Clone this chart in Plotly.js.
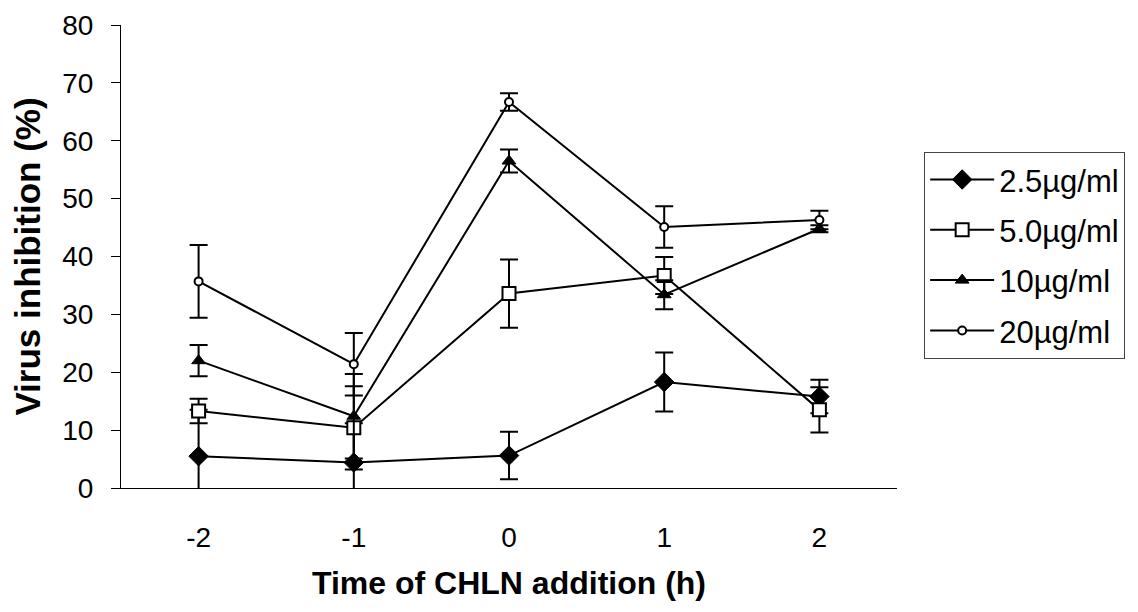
<!DOCTYPE html>
<html>
<head>
<meta charset="utf-8">
<script src="https://cdn.plot.ly/plotly-3.0.1.min.js"></script>
<style>html,body{margin:0;padding:0;background:#fff;}#chart{width:1138px;height:612px;}</style>
</head>
<body>
<div id="chart"></div>
<script>
const times = [-2, -1, 0, 1, 2];
const seriesNames = ["2.5µg/ml", "5.0µg/ml", "10µg/ml", "20µg/ml"];
const inhib25 = [5.5, 4.4, 5.6, 18.3, 15.8];
const err25 = [8.0, 6.8, 4.1, 5.1, 2.9];
const inhib50 = [13.3, 10.4, 33.6, 36.7, 13.5];
const err50 = [2.1, 7.2, 5.9, 3.2, 3.9];
const inhib10 = [22.0, 12.4, 56.5, 33.4, 44.8];
const err10 = [2.7, 7.3, 2.0, 2.5, 0.6];
const inhib20 = [35.7, 21.4, 66.7, 45.1, 46.3];
const err20 = [6.3, 5.4, 1.5, 3.6, 1.6];
const yTicks = [0, 10, 20, 30, 40, 50, 60, 70, 80];

const ys = [inhib25, inhib50, inhib10, inhib20];
const es = [err25, err50, err10, err20];
const markers = [
  {symbol: "diamond", size: 15, color: "#000", line: {color: "#000", width: 1}},
  {symbol: "square", size: 13, color: "#fff", line: {color: "#000", width: 2}},
  {symbol: "triangle-up", size: 12, color: "#000", line: {color: "#000", width: 1}},
  {symbol: "circle", size: 8, color: "#fff", line: {color: "#000", width: 2}}
];
const traces = ys.map((y, i) => ({
  x: times, y: y, name: seriesNames[i], type: "scatter", mode: "lines+markers",
  legendgroup: "g" + i, cliponaxis: false,
  line: {color: "#000", width: 2},
  marker: markers[i],
  error_y: {type: "data", array: es[i], visible: true, color: "#000", thickness: 2, width: 9}
}));

const layout = {
  width: 1138, height: 612,
  margin: {l: 121, r: 241, t: 25, b: 124, autoexpand: false},
  paper_bgcolor: "#fff", plot_bgcolor: "#fff",
  font: {family: "Liberation Sans, Arial, sans-serif", color: "#000", size: 28},
  showlegend: true,
  legend: {
    x: 1.035, y: 0.726, xanchor: "left", yanchor: "top",
    bordercolor: "#444", borderwidth: 1, bgcolor: "#fff",
    font: {size: 31, color: "#000"}, traceorder: "grouped", tracegroupgap: 7,
    itemwidth: 64
  },
  xaxis: {
    range: [-2.5, 2.5], tickmode: "array", tickvals: times, ticktext: times.map(String),
    showline: true, linecolor: "#000", linewidth: 1, showgrid: false, zeroline: false,
    ticks: "", ticklabelstandoff: 24, tickfont: {size: 28},
    title: {text: "<b>Time of CHLN addition (h)</b>", font: {size: 32}, standoff: 20}
  },
  yaxis: {
    range: [0, 80], tickmode: "array", tickvals: yTicks,
    showline: true, linecolor: "#000", linewidth: 1, showgrid: false, zeroline: false,
    ticks: "outside", ticklen: 9, tickcolor: "#000", ticklabelstandoff: 12, tickfont: {size: 28},
    title: {text: "<b>Virus inhibition (%)</b>", font: {size: 35}, standoff: 10}
  }
};
Plotly.newPlot("chart", traces, layout, {staticPlot: true});
</script>
</body>
</html>
